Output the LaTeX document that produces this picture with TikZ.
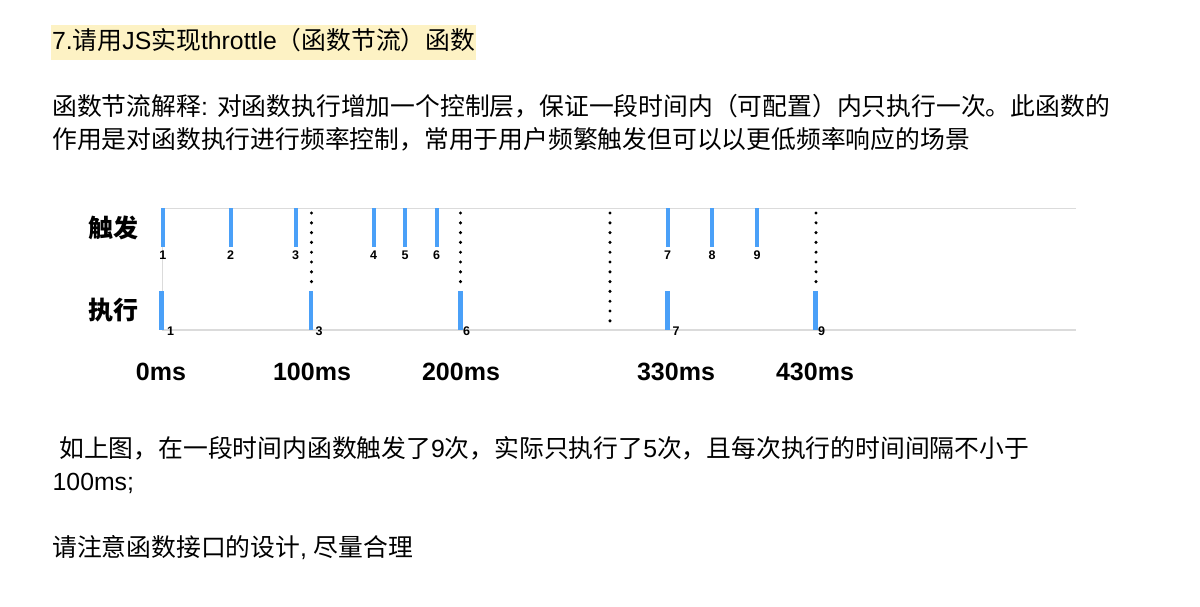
\documentclass[tikz,border=0pt]{standalone}
\usepackage{fontspec}
\setmainfont{Liberation Sans}
\newfontfamily\zh{Noto Sans CJK SC}
\definecolor{titlebg}{RGB}{253,242,196}
\definecolor{barBlue}{RGB}{74,160,248}
\tikzset{
  bodytext/.style={anchor=base west, inner sep=0pt, font=\fontsize{24.8}{30}\selectfont},
  rowlabel/.style={inner sep=0pt, font=\zh\bfseries\fontsize{25}{30}\selectfont},
  timelabel/.style={anchor=base, inner sep=0pt, font=\bfseries\fontsize{25}{30}\selectfont},
  ticklabel/.style={anchor=base, inner sep=0pt, font=\bfseries\fontsize{12.5}{14}\selectfont},
  axisline/.style={gray!28, line width=1.3pt},
  dotline/.style={line width=3.4pt, line cap=round, dash pattern=on 0pt off 9.8pt},
}

\begin{document}
\begin{tikzpicture}[x=1pt,y=-1pt]
  \useasboundingbox (0,0) rectangle (1200,606);

  %--- Title ---
  \fill[titlebg] (51,25) rectangle (475.5,59.5);
  \node[bodytext] (title) at (52,49.5) {7.{\zh 请用}JS{\zh 实现}throttle{\zh （函数节流）函数}};

  %--- Description ---
  \node[bodytext] (desc1) at (52,115.5) {{\zh 函数节流解释}: {\zh 对函数执行增加一个控制层，保证一段时间内（可配置）内只执行一次。此函数的}};
  \node[bodytext] (desc2) at (52,148.5) {\zh 作用是对函数执行进行频率控制，常用于用户频繁触发但可以以更低频率响应的场景};

  %--- Timeline frame ---
  \draw[axisline] (162.3,208.3) -- (1075.5,208.3);
  \draw[axisline] (162.3,330) -- (1075.5,330);
  \draw[axisline] (162.3,208.3) -- (162.3,330);

  %--- Row labels ---
  \node[rowlabel] (trigRow) at (113,228) {触发};
  \node[rowlabel] (execRow) at (113,310) {执行};

  %--- Throttle window marks ---
  \foreach \x/\y in {311.5/282, 460.5/282, 610/321, 816/282} {
    \draw[dotline] (\x,213) -- (\x,\y);
  }

  %--- Trigger bars ---
  \foreach \x/\n in {162.8/1, 230.7/2, 295.7/3, 373.7/4, 405/5, 436.7/6, 667.7/7, 712/8, 757/9} {
    \fill[barBlue] (\x-2.2,208) rectangle (\x+2.2,247);
    \node[ticklabel] (trig\n) at (\x,259) {\n};
  }

  %--- Execution bars ---
  \foreach \x/\lx/\n in {161.5/167/1, 311/315.5/3, 460.5/463/6, 667.7/672.5/7, 815.7/818/9} {
    \fill[barBlue] (\x-2.3,291) rectangle (\x+2.3,330);
    \node[ticklabel, anchor=base west] (exec\n) at (\lx,335) {\n};
  }

  %--- Time axis ---
  \foreach \x/\t in {161/0ms, 312/100ms, 461/200ms, 676/330ms, 815/430ms} {
    \node[timelabel] (t\t) at (\x,380) {\t};
  }

  %--- Notes ---
  \node[bodytext] (note1) at (59,457) {{\zh 如上图，在一段时间内函数触发了}9{\zh 次，实际只执行了}5{\zh 次，且每次执行的时间间隔不小于}};
  \node[bodytext] (note2) at (52.5,490.5) {100ms;};
  \node[bodytext] (note3) at (52,556) {{\zh 请注意函数接口的设计}, {\zh 尽量合理}};

\end{tikzpicture}
\end{document}
